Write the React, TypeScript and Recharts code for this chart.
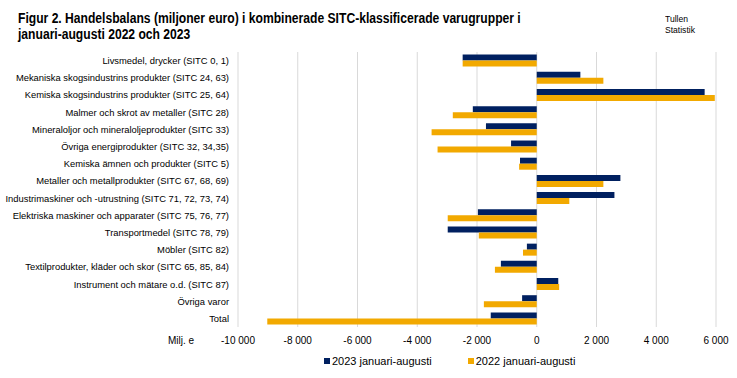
import { BarChart, Bar, XAxis, YAxis, CartesianGrid, Legend } from "recharts";

const categories = [
  "Livsmedel, drycker (SITC 0, 1)",
  "Mekaniska skogsindustrins produkter (SITC 24, 63)",
  "Kemiska skogsindustrins produkter (SITC 25, 64)",
  "Malmer och skrot av metaller (SITC 28)",
  "Mineraloljor och mineraloljeprodukter (SITC 33)",
  "Övriga energiprodukter (SITC 32, 34,35)",
  "Kemiska ämnen och produkter (SITC 5)",
  "Metaller och metallprodukter (SITC 67, 68, 69)",
  "Industrimaskiner och -utrustning (SITC 71, 72, 73, 74)",
  "Elektriska maskiner och apparater (SITC 75, 76, 77)",
  "Transportmedel (SITC 78, 79)",
  "Möbler (SITC 82)",
  "Textilprodukter, kläder och skor (SITC 65, 85, 84)",
  "Instrument och mätare o.d. (SITC 87)",
  "Övriga varor",
  "Total",
];

const values2023 = [
  -2480, 1460, 5620, -2140, -1700, -860, -560, 2800, 2600, -1970, -2980, -330,
  -1200, 720, -490, -1540,
];

const values2022 = [
  -2480, 2230, 5960, -2810, -3520, -3320, -590, 2230, 1090, -2980, -1940, -460,
  -1400, 750, -1770, -9020,
];

const xTicks = [-10000, -8000, -6000, -4000, -2000, 0, 2000, 4000, 6000];

const NAVY = "#002060";
const ORANGE = "#F2A900";
const FONT = "'Liberation Sans', Arial, sans-serif";

const series = [
  { key: "y2023", name: "2023 januari-augusti", color: NAVY },
  { key: "y2022", name: "2022 januari-augusti", color: ORANGE },
];

const data = categories.map((name, i) => ({
  name,
  y2023: values2023[i],
  y2022: values2022[i],
}));

const fmt = (v: number) => {
  const s = Math.abs(v).toString().replace(/\B(?=(\d{3})+(?!\d))/g, " ");
  return v < 0 ? "-" + s : s;
};

const CatTick = (props: any) => {
  const { x, y, payload } = props;
  return (
    <text x={x} y={y} dy={3.5} textAnchor="end" fontSize={9.4} fontFamily={FONT} fill="#000">
      {payload.value}
    </text>
  );
};

const LegendContent = () => (
  <div style={{ display: "flex", fontFamily: FONT, fontSize: 11, color: "#000" }}>
    {series.map((s, i) => (
      <div key={s.key} style={{ display: "flex", alignItems: "center", marginRight: i === 0 ? 36 : 0 }}>
        <span style={{ width: 6, height: 6, background: s.color, display: "inline-block", marginRight: 2 }} />
        <span>{s.name}</span>
      </div>
    ))}
  </div>
);

export default function App() {
  return (
    <div style={{ position: "absolute", left: 0, top: 0, width: 737, height: 378, background: "#fff", fontFamily: FONT }}>
      <div
        style={{
          position: "absolute",
          left: 18,
          top: 10,
          fontWeight: "bold",
          fontSize: 14,
          lineHeight: "16px",
          color: "#000",
          whiteSpace: "nowrap",
          transform: "scaleX(0.865)",
          transformOrigin: "left top",
        }}
      >
        Figur 2. Handelsbalans (miljoner euro) i kombinerade SITC-klassificerade varugrupper i
        <br />
        januari-augusti 2022 och 2023
      </div>
      <div
        style={{
          position: "absolute",
          left: 665,
          top: 13,
          fontSize: 9.5,
          lineHeight: "11px",
          transform: "scaleX(0.9)",
          transformOrigin: "left top",
        }}
      >
        Tullen
        <br />
        Statistik
      </div>
      <div style={{ position: "absolute", left: 168, top: 335, fontSize: 10 }}>Milj. e</div>
      <BarChart
        layout="vertical"
        width={737}
        height={378}
        data={data}
        margin={{ top: 52, right: 21, bottom: 0, left: 0 }}
        barCategoryGap="15%"
        barGap={0}
      >
        <CartesianGrid horizontal={false} stroke="#d9d9d9" strokeWidth={1} />
        <XAxis
          type="number"
          domain={[-10000, 6000]}
          ticks={xTicks}
          tickFormatter={fmt}
          axisLine={false}
          tickLine={false}
          tick={{ fontSize: 10, fill: "#000", fontFamily: FONT }}
          height={24}
          tickMargin={4}
          interval={0}
        />
        <YAxis
          type="category"
          dataKey="name"
          width={238}
          axisLine={false}
          tickLine={false}
          tickMargin={3}
          interval={0}
          tick={CatTick}
        />
        <Legend
          verticalAlign="bottom"
          height={27}
          content={LegendContent}
          wrapperStyle={{ left: 324, width: "auto", bottom: -4 }}
        />
        {series.map((s) => (
          <Bar key={s.key} dataKey={s.key} name={s.name} fill={s.color} isAnimationActive={false} />
        ))}
      </BarChart>
    </div>
  );
}
